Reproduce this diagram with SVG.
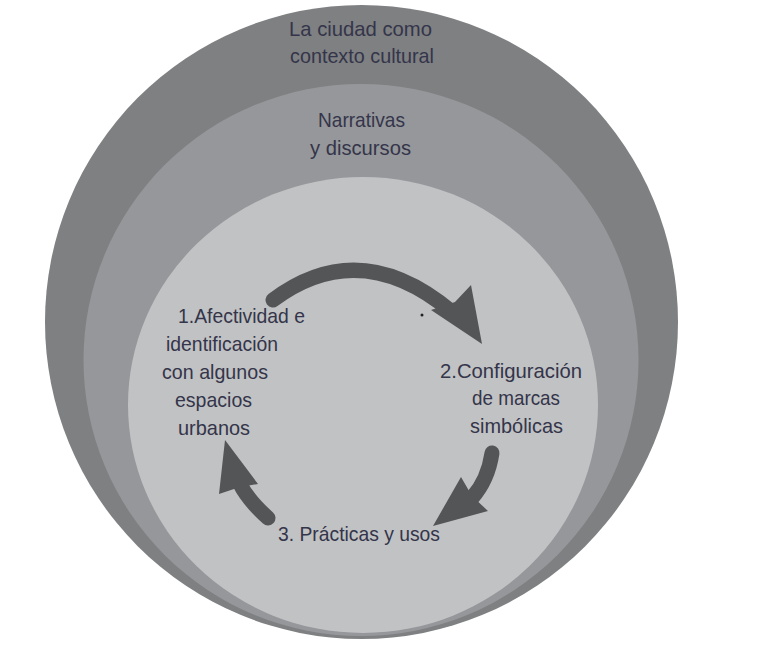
<svg xmlns="http://www.w3.org/2000/svg" width="771" height="650" viewBox="0 0 771 650">
<style>
.t{font-family:"Liberation Sans",Arial,sans-serif;font-size:21px;fill:#34354a;}
.arr{fill:none;stroke:#545557;stroke-width:15;stroke-linecap:round;}
.head{fill:#545557;}
</style>
<rect width="771" height="650" fill="#ffffff"/>
<g id="ring-outer">
<ellipse cx="361.5" cy="322" rx="316.5" ry="317" fill="#7f8082"/>
<text class="t" x="289" y="36" textLength="143" lengthAdjust="spacingAndGlyphs">La ciudad como</text>
<text class="t" x="290" y="63" textLength="144" lengthAdjust="spacingAndGlyphs">contexto cultural</text>
</g>
<g id="ring-middle">
<ellipse cx="361" cy="360" rx="277.5" ry="276" fill="#96979a"/>
<text class="t" x="318" y="127" textLength="87" lengthAdjust="spacingAndGlyphs">Narrativas</text>
<text class="t" x="310" y="155" textLength="101" lengthAdjust="spacingAndGlyphs">y discursos</text>
</g>
<g id="ring-inner">
<ellipse cx="363" cy="405" rx="235" ry="228" fill="#c1c2c4"/>
</g>
<g id="connectors">
<path class="arr" d="M273 300 Q360 235 452 312"/>
<polygon class="head" points="431,310 455,302 471,285 482,344"/>
<path class="arr" d="M492 453 Q488 480 472 498"/>
<polygon class="head" points="461,477 472,496 488,511 433,526"/>
<path class="arr" d="M268 518 Q248 500 240 484"/>
<polygon class="head" points="219,494 240,487 258,484 225,440"/>
</g>
<circle cx="422" cy="315" r="1.5" fill="#222"/>
<g id="node-1">
<text class="t" x="178" y="323" textLength="127" lengthAdjust="spacingAndGlyphs">1.Afectividad e</text>
<text class="t" x="166" y="351" textLength="112" lengthAdjust="spacingAndGlyphs">identificación</text>
<text class="t" x="162" y="379" textLength="106" lengthAdjust="spacingAndGlyphs">con algunos</text>
<text class="t" x="175" y="407" textLength="77" lengthAdjust="spacingAndGlyphs">espacios</text>
<text class="t" x="178" y="435" textLength="72" lengthAdjust="spacingAndGlyphs">urbanos</text>
</g>
<g id="node-2">
<text class="t" x="440" y="378" textLength="142" lengthAdjust="spacingAndGlyphs">2.Configuración</text>
<text class="t" x="472" y="405" textLength="88" lengthAdjust="spacingAndGlyphs">de marcas</text>
<text class="t" x="470" y="433" textLength="93" lengthAdjust="spacingAndGlyphs">simbólicas</text>
</g>
<g id="node-3">
<text class="t" x="278" y="541" textLength="162" lengthAdjust="spacingAndGlyphs">3. Prácticas y usos</text>
</g>
</svg>
